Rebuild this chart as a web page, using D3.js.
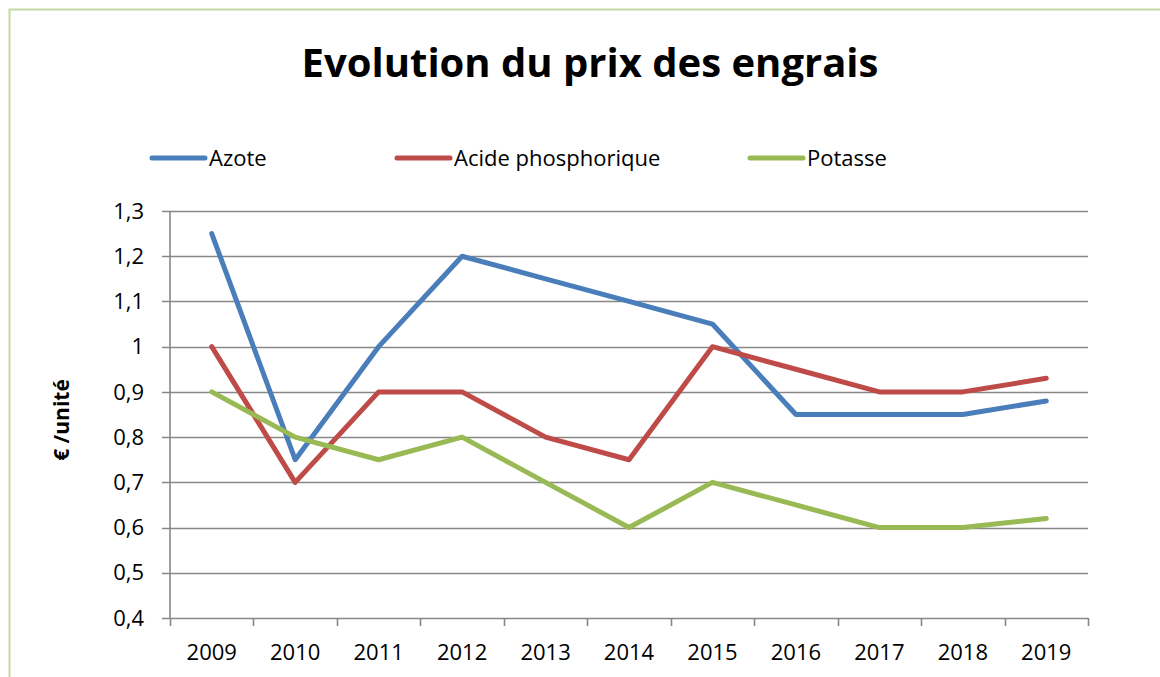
<!DOCTYPE html>
<html>
<head>
<meta charset="utf-8">
<script src="https://cdn.jsdelivr.net/npm/d3@7"></script>
<style>
  body { margin: 0; background: #fff; }
  text { font-family: "Open Sans", "Noto Sans", sans-serif; }
</style>
</head>
<body>
<script>
'use strict';

// données
const annees = ["2009", "2010", "2011", "2012", "2013", "2014", "2015", "2016", "2017", "2018", "2019"];
const azote = [1.25, 0.75, 1.0, 1.2, 1.15, 1.1, 1.05, 0.85, 0.85, 0.85, 0.88];
const acidePhosphorique = [1.0, 0.7, 0.9, 0.9, 0.8, 0.75, 1.0, 0.95, 0.9, 0.9, 0.93];
const potasse = [0.9, 0.8, 0.75, 0.8, 0.7, 0.6, 0.7, 0.65, 0.6, 0.6, 0.62];
const yTicks = [0.4, 0.5, 0.6, 0.7, 0.8, 0.9, 1.0, 1.1, 1.2, 1.3];

const series = [
  {nom: "Azote", valeurs: azote, couleur: "#4a7ebb", lx: 152},
  {nom: "Acide phosphorique", valeurs: acidePhosphorique, couleur: "#be4b48", lx: 397},
  {nom: "Potasse", valeurs: potasse, couleur: "#98b954", lx: 750}
];

const canevas = d3.select("body").append("svg")
  .attr("width", 1160)
  .attr("height", 677);

// cadre
canevas.append("path")
  .attr("d", "M9.5,677 V9.5 H1160")
  .style("fill", "none")
  .style("stroke", "#c3d9a5")
  .style("stroke-width", 2);

const x = d3.scaleBand()
  .domain(annees)
  .range([170, 1088]);

const y = d3.scaleLinear()
  .domain([0.4, 1.3])
  .range([618, 211]);

const virgule = d3.formatLocale({decimal: ",", thousands: " ", grouping: [3], currency: ["", "€"]});
const fmt = v => Math.abs(v - 1) < 1e-9 ? "1" : virgule.format(".1f")(v);

// grille horizontale
canevas.append("g")
  .selectAll("line")
  .data(yTicks)
  .enter()
  .append("line")
    .attr("x1", 162)
    .attr("x2", 1088)
    .attr("y1", d => Math.round(y(d)) + 0.5)
    .attr("y2", d => Math.round(y(d)) + 0.5)
    .style("stroke", "#878787")
    .style("stroke-width", 1.6);

// axe Y
canevas.append("line")
  .attr("x1", 170).attr("x2", 170)
  .attr("y1", 211).attr("y2", 618)
  .style("stroke", "#878787")
  .style("stroke-width", 1.6);

canevas.append("g")
  .selectAll("text")
  .data(yTicks)
  .enter()
  .append("text")
    .attr("x", 144)
    .attr("y", d => y(d))
    .attr("dy", "0.35em")
    .attr("text-anchor", "end")
    .style("font-size", "22px")
    .style("fill", "#000")
    .text(fmt);

// axe X
const axeX = canevas.append("g")
  .attr("transform", "translate(0,618)")
  .call(d3.axisBottom(x).tickSize(0).tickPadding(26));
axeX.select(".domain").remove();
axeX.selectAll("text")
  .style("font-size", "22px")
  .style("font-family", "'Open Sans', 'Noto Sans', sans-serif")
  .style("fill", "#000");

const bords = annees.map(a => x(a)).concat([x.range()[1]]);
canevas.append("g")
  .selectAll("line")
  .data(bords)
  .enter()
  .append("line")
    .attr("x1", d => Math.round(d) + 0.5)
    .attr("x2", d => Math.round(d) + 0.5)
    .attr("y1", 618)
    .attr("y2", 626)
    .style("stroke", "#878787")
    .style("stroke-width", 1.6);

// courbes
const ligne = d3.line()
  .x((d, i) => x(annees[i]) + x.bandwidth() / 2)
  .y(d => y(d));

canevas.append("g")
  .selectAll("path")
  .data(series)
  .enter()
  .append("path")
    .attr("d", d => ligne(d.valeurs))
    .style("fill", "none")
    .style("stroke", d => d.couleur)
    .style("stroke-width", 5)
    .style("stroke-linecap", "round")
    .style("stroke-linejoin", "round");

// légende
const leg = canevas.append("g")
  .selectAll("g")
  .data(series)
  .enter()
  .append("g");
leg.append("line")
  .attr("x1", d => d.lx)
  .attr("x2", d => d.lx + 53)
  .attr("y1", 158)
  .attr("y2", 158)
  .style("stroke", d => d.couleur)
  .style("stroke-width", 5)
  .style("stroke-linecap", "round");
leg.append("text")
  .attr("x", d => d.lx + 57)
  .attr("y", 158)
  .attr("dy", "0.35em")
  .style("font-size", "22px")
  .text(d => d.nom);

// titre
canevas.append("text")
  .attr("x", 590)
  .attr("y", 77)
  .attr("text-anchor", "middle")
  .style("font-size", "40px")
  .style("font-weight", "bold")
  .text("Evolution du prix des engrais");

// titre de l'axe Y
canevas.append("text")
  .attr("transform", "translate(69,420) rotate(-90)")
  .attr("text-anchor", "middle")
  .style("font-size", "21px")
  .style("font-weight", "bold")
  .text("€ /unité");
</script>
</body>
</html>
